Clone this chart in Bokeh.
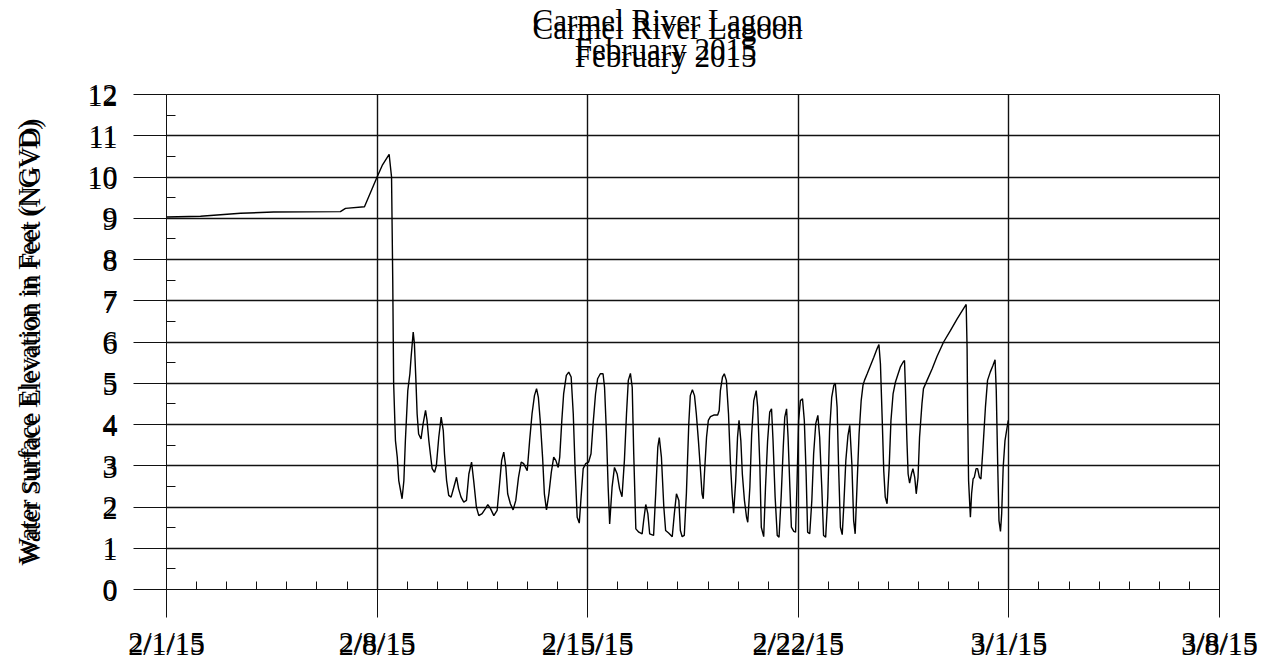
import numpy as np
from bokeh.plotting import figure
from bokeh.models import FixedTicker, LinearAxis, Range1d, Title
from bokeh.embed import file_html
from bokeh.resources import INLINE

# ---- text ----
title_top = "Carmel River Lagoon"
title_sub = "February 2015"
y_title = "Water Surface Elevation in Feet (NGVD)"
y_title_alt = "Water surface Elevation in Feet (NGVD)"

# ---- axes (x in days since 2/1/15) ----
x_tick_days = [0, 7, 14, 21, 28, 35]
x_tick_labels = ["2/1/15", "2/8/15", "2/15/15", "2/22/15", "3/1/15", "3/8/15"]
x_minor_days = list(range(0, 36))
y_ticks = [0, 1, 2, 3, 4, 5, 6, 7, 8, 9, 10, 11, 12]
y_tick_labels = ["0", "1", "2", "3", "4", "5", "6", "7", "8", "9", "10", "11", "12"]
y_minor = [0.5, 1.5, 2.5, 3.5, 4.5, 5.5, 6.5, 7.5, 8.5, 9.5, 10.5, 11.5]

# ---- series: days since 2015-02-01 00:00, elevation (ft NGVD) ----
days = [0.00, 1.13, 2.46, 3.56, 5.78, 5.95, 6.58, 7.00, 7.17, 7.40, 7.48, 7.52,
        7.55, 7.61, 7.67, 7.72, 7.78, 7.83, 7.89, 7.94, 8.02, 8.09, 8.13, 8.20,
        8.24, 8.29, 8.33, 8.38, 8.46, 8.53, 8.61, 8.66, 8.72, 8.77, 8.83, 8.91,
        8.97, 9.05, 9.13, 9.20, 9.24, 9.31, 9.38, 9.46, 9.55, 9.64, 9.71, 9.79,
        9.88, 9.97, 10.05, 10.14, 10.21, 10.30, 10.38, 10.49, 10.60, 10.68, 10.77, 10.88,
        10.99, 11.08, 11.14, 11.21, 11.28, 11.34, 11.43, 11.52, 11.61, 11.70, 11.79, 11.87,
        11.99, 12.07, 12.15, 12.23, 12.30, 12.36, 12.43, 12.50, 12.56, 12.63, 12.71, 12.79,
        12.87, 12.94, 13.02, 13.07, 13.14, 13.20, 13.29, 13.37, 13.45, 13.52, 13.58, 13.65,
        13.72, 13.78, 13.85, 13.93, 14.03, 14.11, 14.18, 14.26, 14.33, 14.42, 14.51, 14.56,
        14.62, 14.68, 14.73, 14.81, 14.89, 14.98, 15.06, 15.14, 15.22, 15.29, 15.35, 15.42,
        15.48, 15.53, 15.60, 15.70, 15.81, 15.86, 15.93, 16.00, 16.06, 16.19, 16.26, 16.33,
        16.38, 16.45, 16.53, 16.59, 16.69, 16.81, 16.88, 16.95, 17.03, 17.08, 17.14, 17.21,
        17.28, 17.36, 17.41, 17.48, 17.55, 17.61, 17.68, 17.75, 17.80, 17.84, 17.88, 17.95,
        18.01, 18.08, 18.19, 18.32, 18.37, 18.41, 18.48, 18.54, 18.61, 18.68, 18.74, 18.80,
        18.85, 18.92, 18.98, 19.03, 19.09, 19.14, 19.21, 19.28, 19.32, 19.39, 19.45, 19.52,
        19.60, 19.65, 19.72, 19.77, 19.85, 19.91, 19.98, 20.05, 20.11, 20.16, 20.23, 20.30,
        20.36, 20.43, 20.50, 20.55, 20.61, 20.66, 20.72, 20.77, 20.85, 20.91, 20.96, 21.01,
        21.07, 21.14, 21.20, 21.26, 21.31, 21.38, 21.45, 21.51, 21.58, 21.65, 21.71, 21.78,
        21.84, 21.91, 21.98, 22.04, 22.11, 22.18, 22.23, 22.29, 22.34, 22.40, 22.46, 22.51,
        22.58, 22.65, 22.71, 22.78, 22.84, 22.89, 22.95, 23.02, 23.09, 23.15, 23.20, 23.29,
        23.40, 23.51, 23.62, 23.68, 23.73, 23.79, 23.84, 23.89, 23.95, 24.02, 24.08, 24.15,
        24.23, 24.30, 24.39, 24.48, 24.53, 24.56, 24.61, 24.65, 24.70, 24.76, 24.81, 24.87,
        24.92, 24.98, 25.03, 25.11, 25.16, 25.28, 25.45, 25.61, 25.83, 26.06, 26.28, 26.45,
        26.58, 26.61, 26.63, 26.66, 26.72, 26.76, 26.81, 26.85, 26.91, 26.96, 27.02, 27.07,
        27.14, 27.22, 27.29, 27.38, 27.47, 27.54, 27.58, 27.63, 27.67, 27.72, 27.76, 27.81,
        27.87, 27.94, 27.98]
elev = [9.03, 9.05, 9.12, 9.15, 9.16, 9.24, 9.28, 10.00, 10.28, 10.55, 10.00, 7.50,
        5.00, 3.61, 3.21, 2.64, 2.40, 2.20, 2.64, 3.61, 4.82, 5.23, 5.63, 6.24,
        5.96, 5.07, 4.26, 3.77, 3.65, 4.02, 4.34, 4.10, 3.61, 3.29, 2.93, 2.84,
        3.00, 3.69, 4.18, 3.85, 3.29, 2.64, 2.28, 2.24, 2.48, 2.72, 2.44, 2.24,
        2.12, 2.16, 2.80, 3.09, 2.64, 2.00, 1.79, 1.84, 1.96, 2.06, 1.96, 1.79,
        1.92, 2.64, 3.13, 3.33, 2.96, 2.32, 2.08, 1.93, 2.16, 2.72, 3.09, 3.05,
        2.88, 3.61, 4.26, 4.70, 4.87, 4.66, 4.02, 3.21, 2.32, 1.93, 2.32, 2.84,
        3.21, 3.13, 2.96, 3.21, 4.10, 4.74, 5.19, 5.27, 5.15, 4.26, 2.96, 1.75,
        1.61, 2.24, 2.93, 3.05, 3.09, 3.29, 4.02, 4.74, 5.11, 5.23, 5.23, 4.90,
        3.85, 2.48, 1.59, 2.48, 2.96, 2.80, 2.44, 2.25, 3.13, 4.26, 5.07, 5.24,
        4.90, 3.29, 1.47, 1.39, 1.35, 1.67, 2.06, 1.84, 1.35, 1.31, 2.32, 3.45,
        3.68, 3.21, 2.00, 1.43, 1.37, 1.28, 1.84, 2.32, 2.16, 1.43, 1.28, 1.31,
        2.32, 4.02, 4.70, 4.84, 4.70, 4.26, 3.61, 2.88, 2.32, 2.20, 2.80, 3.69,
        4.10, 4.19, 4.23, 4.23, 4.34, 4.82, 5.15, 5.23, 5.07, 4.26, 3.13, 2.32,
        1.85, 2.64, 3.69, 4.10, 3.61, 2.80, 2.16, 1.75, 1.63, 2.48, 3.77, 4.58,
        4.82, 4.42, 3.05, 1.51, 1.28, 2.48, 3.61, 4.30, 4.38, 3.61, 2.24, 1.31,
        1.27, 2.24, 3.45, 4.18, 4.38, 3.69, 2.48, 1.51, 1.41, 1.39, 2.64, 4.10,
        4.58, 4.62, 4.10, 2.80, 1.39, 1.35, 2.16, 3.29, 4.02, 4.22, 3.69, 2.48,
        1.31, 1.27, 2.24, 3.85, 4.66, 4.95, 5.00, 4.42, 2.96, 1.51, 1.33, 2.00,
        3.13, 3.73, 3.98, 3.05, 1.67, 1.35, 2.48, 3.77, 4.58, 4.95, 5.07, 5.23,
        5.43, 5.63, 5.84, 5.94, 5.47, 4.10, 2.88, 2.24, 2.08, 2.96, 4.10, 4.74,
        5.03, 5.19, 5.39, 5.51, 5.55, 4.90, 3.61, 2.80, 2.58, 2.80, 2.93, 2.72,
        2.32, 2.72, 3.69, 4.50, 4.87, 5.07, 5.35, 5.65, 6.00, 6.28, 6.56, 6.76,
        6.91, 5.87, 4.26, 2.64, 1.75, 2.32, 2.68, 2.72, 2.93, 2.93, 2.72, 2.68,
        3.45, 4.42, 5.07, 5.27, 5.43, 5.57, 4.82, 2.96, 1.67, 1.41, 1.84, 2.96,
        3.61, 3.93, 4.10]

FONT = "Liberation Serif"
INK = "#111111"


def doubled(s):
    # the reference renders every text twice, slightly offset
    return s + "\n" + s


p = figure(frame_width=1053, frame_height=495,
           x_range=Range1d(x_tick_days[0], x_tick_days[-1]),
           y_range=Range1d(y_ticks[0], y_ticks[-1]),
           output_backend="svg", toolbar_location=None,
           min_border_left=166, min_border_right=45,
           min_border_top=94, min_border_bottom=40)
p.title.visible = False
p.background_fill_color = "white"
p.border_fill_color = "white"
p.outline_line_color = INK
p.outline_line_width = 1

x_ticker = FixedTicker(ticks=x_tick_days, minor_ticks=x_minor_days)
y_ticker = FixedTicker(ticks=y_ticks, minor_ticks=y_minor)

xa = p.xaxis[0]
xa.ticker = x_ticker
xa.major_label_overrides = {d: doubled(t) for d, t in zip(x_tick_days, x_tick_labels)}
xa.axis_line_color = INK
xa.major_tick_line_color = INK
xa.minor_tick_line_color = INK
xa.major_tick_out = 28
xa.major_tick_in = 0
xa.minor_tick_in = 8
xa.minor_tick_out = 0
xa.major_label_standoff = 7
xa.major_label_text_font = FONT
xa.major_label_text_font_size = "30px"
xa.major_label_text_line_height = 0.1
xa.major_label_text_color = "black"

ya = p.yaxis[0]
ya.ticker = y_ticker
ya.major_label_overrides = {v: doubled(t) for v, t in zip(y_ticks, y_tick_labels)}
ya.axis_line_color = INK
ya.major_tick_line_color = INK
ya.minor_tick_line_color = INK
ya.major_tick_out = 33
ya.major_tick_in = 0
ya.minor_tick_in = 9
ya.minor_tick_out = 0
ya.major_label_standoff = 16
ya.major_label_text_font = FONT
ya.major_label_text_font_size = "30px"
ya.major_label_text_line_height = 0.08
ya.major_label_text_color = "black"
ya.axis_label = y_title_alt + "\n" + y_title
ya.axis_label_standoff = 39
ya.axis_label_text_font = FONT
ya.axis_label_text_font_size = "27px"
ya.axis_label_text_font_style = "normal"
ya.axis_label_text_line_height = 0.1
ya.axis_label_text_color = "black"

# second title line: a bare top axis whose single tick label is the text
title_x = 16.59  # day position of the title's centre
sub_axis = LinearAxis(ticker=FixedTicker(ticks=[title_x], minor_ticks=[]),
                      major_label_overrides={title_x: doubled(title_sub)},
                      major_tick_out=0, major_tick_in=0, minor_tick_out=0,
                      minor_tick_in=0, major_tick_line_color=None,
                      minor_tick_line_color=None, axis_line_color=None,
                      major_label_standoff=21,
                      major_label_text_font=FONT, major_label_text_font_size="31px",
                      major_label_text_line_height=0.2,
                      major_label_text_color="black")
p.add_layout(sub_axis, "above")

p.add_layout(Title(text=doubled(title_top), align="left", offset=366,
                   vertical_align="bottom", standoff=-36,
                   text_font=FONT, text_font_size="31px",
                   text_font_style="normal", text_color="black",
                   text_line_height=0.24), "above")

p.xgrid.ticker = x_ticker
p.ygrid.ticker = y_ticker
for g in (p.xgrid[0], p.ygrid[0]):
    g.grid_line_color = INK
    g.grid_line_width = 1.4
    g.grid_line_alpha = 1.0

p.line(days, elev, line_color="black", line_width=1.4)

open("out.html", "w").write(file_html(p, INLINE))
